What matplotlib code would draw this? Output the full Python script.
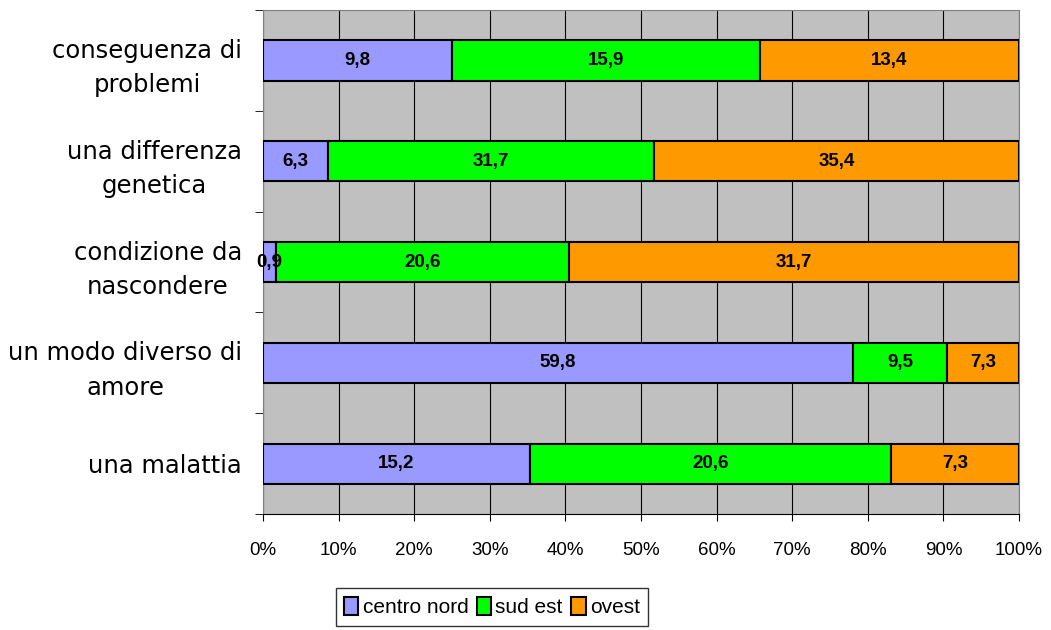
import matplotlib
matplotlib.use("Agg")
import matplotlib.pyplot as plt
import numpy as np

categories = ["una malattia", "un modo diverso di\namore", "condizione da\nnascondere",
              "una differenza\ngenetica", "conseguenza di\nproblemi"]
centro_nord = [15.2, 59.8, 0.9, 6.3, 9.8]
sud_est = [20.6, 9.5, 20.6, 31.7, 15.9]
ovest = [7.3, 7.3, 31.7, 35.4, 13.4]
series_names = ["centro nord", "sud est", "ovest"]
colors = ["#9999FF", "#00FF00", "#FF9900"]

data = np.array([centro_nord, sud_est, ovest])
shares = data / data.sum(axis=0) * 100

fig = plt.figure(figsize=(10.51, 6.3), dpi=100)
ax = fig.add_axes([0.2502, 0.184, 0.7194, 0.8])
ax.set_facecolor("#C0C0C0")

y = np.arange(len(categories))
left = np.zeros(len(categories))
for i, name in enumerate(series_names):
    ax.barh(y, shares[i], left=left, height=0.4, color=colors[i],
            edgecolor="black", linewidth=1.5, label=name, zorder=3)
    for j in range(len(categories)):
        ax.text(left[j] + shares[i][j] / 2, y[j], f"{data[i][j]:.1f}".replace(".", ","),
                ha="center", va="center", fontsize=13.5, fontweight="bold",
                family="Liberation Sans", zorder=4)
    left += shares[i]

ax.set_xlim(0, 100)
ax.set_ylim(-0.5, len(categories) - 0.5)
ax.set_xticks(np.arange(0, 101, 10))
ax.set_xticklabels([f"{v}%" for v in range(0, 101, 10)], family="Liberation Sans", fontsize=13.5)
ax.xaxis.grid(True, color="black", linewidth=0.8, zorder=1)
ax.tick_params(axis="x", length=5, pad=15, color="black")

ax.set_yticks(y)
ax.set_yticklabels(categories, fontsize=17.5, family="DejaVu Sans", linespacing=1.55,
                   multialignment="center")
ax.tick_params(axis="y", length=0, pad=15)
ax.set_yticks(np.arange(-0.5, len(categories), 1), minor=True)
ax.tick_params(axis="y", which="minor", length=6, color="black")

for side in ["top", "right", "left"]:
    ax.spines[side].set_color("#808080")
ax.spines["bottom"].set_color("black")

leg = fig.legend(loc="center", bbox_to_anchor=(0.468, 0.0365), ncol=3, frameon=True,
                 fancybox=False, edgecolor="black", handlelength=0.7, handleheight=1.0,
                 handletextpad=0.2, columnspacing=0.4, borderpad=0.4,
                 prop={"family": "Liberation Sans", "size": 15})
for h in leg.legend_handles:
    h.set_linewidth(1.5)

fig.savefig("out.png", dpi=100)
